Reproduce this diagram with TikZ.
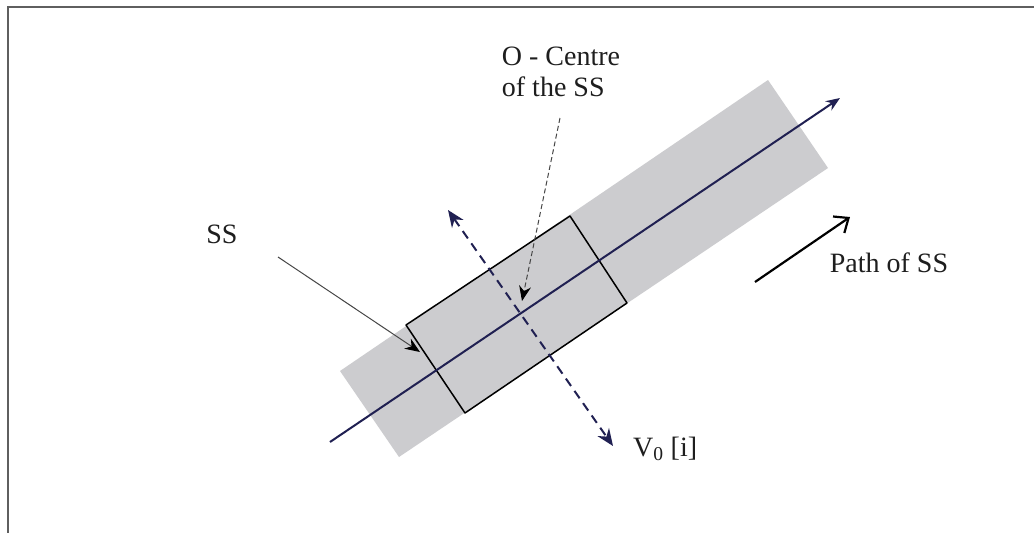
\documentclass[tikz,border=0pt]{standalone}
\usepackage{fontspec}
\setmainfont{Liberation Serif}
\usetikzlibrary{arrows.meta}
\definecolor{bandgray}{RGB}{204,204,207}
\definecolor{navy}{RGB}{32,32,82}
\definecolor{framegray}{RGB}{95,95,95}
\definecolor{leadergray}{RGB}{70,70,70}
\definecolor{txt}{RGB}{30,30,30}
\tikzset{
  lbl/.style={font=\fontsize{28}{31}\selectfont, text=txt, inner sep=0pt},
  leader/.style={leadergray, line width=1pt, -{Stealth[length=15pt,width=12pt,black]}},
  pathline/.style={navy, line width=2pt, -{Stealth[length=14pt,width=11pt]}},
  velo/.style={navy, line width=2pt, dash pattern=on 9pt off 6pt,
    {Stealth[length=17pt,width=14pt]}-{Stealth[length=17pt,width=14pt]}},
  dirarrow/.style={black, line width=2.2pt, -{Straight Barb[length=12pt,width=20pt]}},
  ssbox/.style={black, line width=1.5pt, line join=round},
}
\begin{document}
\begin{tikzpicture}[x=1pt,y=-1pt]
\useasboundingbox (0,0) rectangle (1034,533);
\fill[white] (0,0) rectangle (1034,533);
% frame
\draw[framegray, line width=2pt] (8,533) -- (8,7) -- (1034,7);
% band
\fill[bandgray] (340,371) -- (399,457) -- (828,168) -- (768,80) -- cycle;
% SS box
\draw[ssbox] (406,325) -- (570,216) -- (627,303) -- (465,413) -- cycle;
% coordinates
\coordinate (pstart) at (330,442);
\coordinate (pend) at (840,98);
\coordinate (vtop) at (448,210);
\coordinate (vbot) at (613,446);
\coordinate (O) at (522,301);
\coordinate (ostart) at (560,118);
\coordinate (ssstart) at (278,257);
\coordinate (sstip) at (420,352);
\coordinate (dstart) at (755,282);
\coordinate (dend) at (850,217);
% path line
\draw[pathline] (pstart) -- (pend);
% velocity dashed
\draw[velo] (vtop) -- (vbot);
% labels
\node[lbl, align=left, anchor=center] (ocentre) at (561,72) {O - Centre\\of the SS};
\node[lbl] (sslbl) at (222,234) {SS};
\node[lbl] (pathlbl) at (889,263) {Path of SS};
\node[lbl, anchor=west] (vlbl) at (633,449) {V\textsubscript{0} [i]};
% leaders
\draw[leader, dash pattern=on 5pt off 3pt] (ostart) -- (O);
\draw[leader] (ssstart) -- (sstip);
\draw[dirarrow] (dstart) -- (dend);
\end{tikzpicture}
\end{document}
